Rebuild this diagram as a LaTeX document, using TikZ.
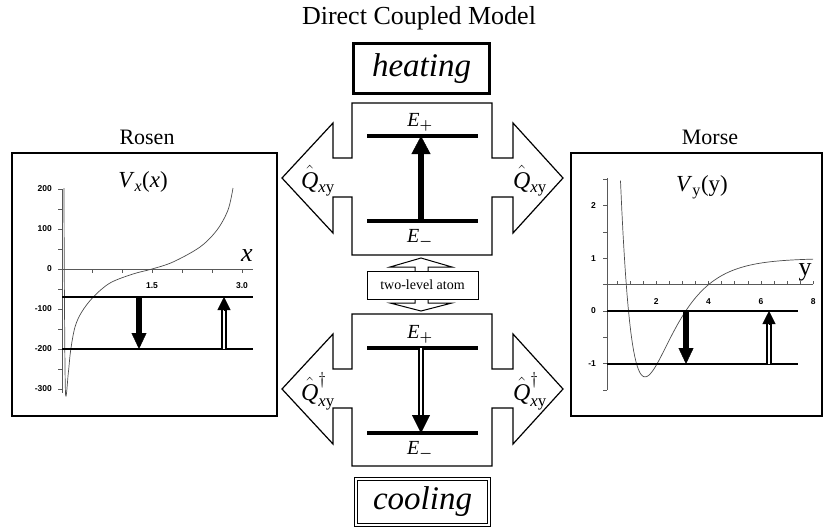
\documentclass[tikz,border=0pt]{standalone}
\usepackage{amsmath}
\usepackage{fontspec}
\setmainfont{Liberation Serif}
\newfontfamily\tickfont{Liberation Sans}
\usetikzlibrary{arrows.meta,calc}

\tikzset{
  crossline/.style={line width=1.2pt, line join=miter},
  panel/.style={line width=2pt},
  level/.style={line width=3.2pt},
  plotlevel/.style={line width=1.4pt},
  axisline/.style={line width=0.6pt, black!65},
  curve/.style={line width=0.7pt, black!70},
  bigsolid/.style={line width=6.5pt, -{Triangle[length=18pt,width=19pt,line width=0.4pt]}},
  smallsolid/.style={line width=6.5pt, -{Triangle[length=16pt,width=15pt,line width=0.4pt]}},
  hollowshaft/.style={double, double distance=2.8pt, line width=1.4pt},
  ticklabel/.style={font=\tickfont\bfseries\fontsize{8.5}{9}\selectfont, inner sep=0pt},
  elabel/.style={font=\fontsize{20}{22}\selectfont, inner sep=0pt},
  qlabel/.style={font=\fontsize{24}{26}\selectfont, inner sep=0pt},
  plottitle/.style={font=\fontsize{22}{24}\selectfont},
}

% open shaft with a filled head: start, end, head length
\newcommand\openarrow[3]{%
  \draw[hollowshaft] (#1) -- ($(#2)!#3pt-1pt!(#1)$);
  \draw[line width=0.4pt, -{Triangle[length=#3pt,width=#3pt,line width=0.4pt]}]
    ($(#2)!#3pt!(#1)$) -- (#2);
}

\begin{document}
\begin{tikzpicture}[x=1pt, y=-1pt]
\useasboundingbox (0,0) rectangle (824,531);

\node[font=\fontsize{26}{28}\selectfont] (title) at (419,18) {Direct Coupled Model};

% two atom panels with their side arrows
\foreach \dy in {0,211}{
  \draw[crossline, shift={(0,\dy)}]
    (352,103) -- (492,103) -- (492,158) -- (513,158) -- (513,123) -- (563,178)
    -- (513,233) -- (513,197) -- (492,197) -- (492,255) -- (352,255) -- (352,197)
    -- (333,197) -- (333,233) -- (282,178) -- (333,123) -- (333,158) -- (352,158)
    -- cycle;
}

\node[draw, line width=3pt, minimum width=136pt, minimum height=50pt, inner sep=0pt,
  font=\itshape\fontsize{33}{35}\selectfont] (heat) at (421.5,68.5) {heating};
\node[draw, double, double distance=2pt, line width=1pt, minimum width=133pt,
  minimum height=46pt, inner sep=0pt, font=\itshape\fontsize{33}{35}\selectfont]
  (cool) at (422.5,502) {cooling};

% heating levels
\draw[level] (367,136) -- (478,136);
\draw[level] (367,221) -- (478,221);
\coordinate (hlo) at (421,221);
\coordinate (hhi) at (421,136);
\draw[bigsolid] (hlo) -- (hhi);
\node[elabel] (hEp) at (420,122) {\textit{E}$_{\boldsymbol{+}}$};
\node[elabel] (hEm) at (420,238) {\textit{E}$_{\boldsymbol{-}}$};
\node[qlabel] (qhl) at (318,181) {$\hat{\textit{Q}}_{\textit{x}\text{y}}$};
\node[qlabel] (qhr) at (530,181) {$\hat{\textit{Q}}_{\textit{x}\text{y}}$};

% cooling levels
\draw[level] (367,348) -- (478,348);
\draw[level] (367,433) -- (478,433);
\coordinate (chi) at (421,348);
\coordinate (clo) at (421,433);
\openarrow{chi}{clo}{18}
\node[elabel] (cEp) at (420,334) {\textit{E}$_{\boldsymbol{+}}$};
\node[elabel] (cEm) at (420,450) {\textit{E}$_{\boldsymbol{-}}$};
\node[qlabel] (qcl) at (318,391) {$\hat{\textit{Q}}^{\dagger}_{\textit{x}\text{y}}$};
\node[qlabel] (qcr) at (530,391) {$\hat{\textit{Q}}^{\dagger}_{\textit{x}\text{y}}$};

% two-level atom link
\draw[crossline, line width=1pt] (421,258) -- (452,267) -- (428,267) -- (428,303)
  -- (452,303) -- (421,311) -- (390,303) -- (415,303) -- (415,267) -- (390,267) -- cycle;
\node[draw, fill=white, line width=1pt, minimum width=111pt, minimum height=28pt,
  inner sep=0pt, font=\fontsize{14}{16}\selectfont] (atom) at (422.5,285) {two-level atom};

% Rosen potential
\node[plottitle] (rosen) at (147,137) {Rosen};
\draw[panel] (12,153) rectangle (277,416);
\draw[axisline] (62,189) -- (62,393);
\foreach \v in {-300,-250,...,200}
  \draw[axisline] (62,{269-0.4*\v}) -- ++(-4,0);
\foreach \v in {-300,-200,...,200}
  \node[ticklabel, anchor=east] at (52,{269-0.4*\v}) {\v};
\draw[axisline] (62,269) -- (253,269);
\foreach \t in {0.5,1,...,3}
  \draw[axisline] ({62+60*\t},269) -- ++(0,4);
\node[ticklabel] (r15) at (152,286) {1.5};
\node[ticklabel] (r30) at (242,286) {3.0};
\node[font=\itshape\fontsize{26}{28}\selectfont, inner sep=0pt] (rx) at (247,256) {x};
\node[font=\fontsize{23}{25}\selectfont, inner sep=0pt] (rV) at (143,182)
  {\textit{V}$_{\textit{x}}$(\textit{x})};
\draw[curve] plot[smooth, tension=0.55] coordinates {
  (64,188) (64.4,290) (65.5,393) (68.3,373) (70.7,350) (75,327) (81.7,312)
  (93.3,297) (110,283) (133,274) (152,269) (173,262) (200,247) (217,230)
  (228,210) (233,188)};
\draw[plotlevel] (62,297) -- (253,297);
\draw[plotlevel] (62,349) -- (253,349);
\coordinate (rhi) at (139,297);
\coordinate (rlo) at (139,349);
\coordinate (rhi2) at (224,297);
\coordinate (rlo2) at (224,349);
\draw[smallsolid] (rhi) -- (rlo);
\openarrow{rlo2}{rhi2}{13}

% Morse potential
\node[plottitle] (morse) at (710,137) {Morse};
\draw[panel] (571,153) rectangle (822,416);
\draw[axisline] (607,178) -- (607,390);
\foreach \v in {-1.5,-1,...,2.5}
  \draw[axisline] (607,{311-52.7*\v}) -- ++(-4,0);
\foreach \v in {-1,0,1,2}
  \node[ticklabel, anchor=east] at (596,{311-52.7*\v}) {\v};
\draw[axisline] (607,284) -- (813,284);
\foreach \t in {0.5,1,...,8}
  \draw[axisline] ({604+26.15*\t},284) -- ++(0,-3);
\foreach \t in {2,4,6,8}
  \node[ticklabel] at ({604+26.15*\t},302) {\t};
\node[font=\fontsize{26}{28}\selectfont, inner sep=0pt] (my) at (805,272) {y};
\node[font=\fontsize{23}{25}\selectfont, inner sep=0pt] (mV) at (702,187)
  {\textit{V}$_{\text{y}}$(y)};
\begin{scope}[shift={(604,311)}, x=26.15pt, y=52.7pt]
  \draw[curve] plot[domain=0.63:8, samples=150]
    (\x, {2.25*(1-exp(-0.88*(\x-1.57)))^2-1.25});
\end{scope}
\draw[plotlevel] (607,311) -- (798,311);
\draw[plotlevel] (607,364) -- (798,364);
\coordinate (mhi) at (686,311);
\coordinate (mlo) at (686,364);
\coordinate (mhi2) at (769,311);
\coordinate (mlo2) at (769,364);
\draw[smallsolid] (mhi) -- (mlo);
\openarrow{mlo2}{mhi2}{13}
\end{tikzpicture}
\end{document}
